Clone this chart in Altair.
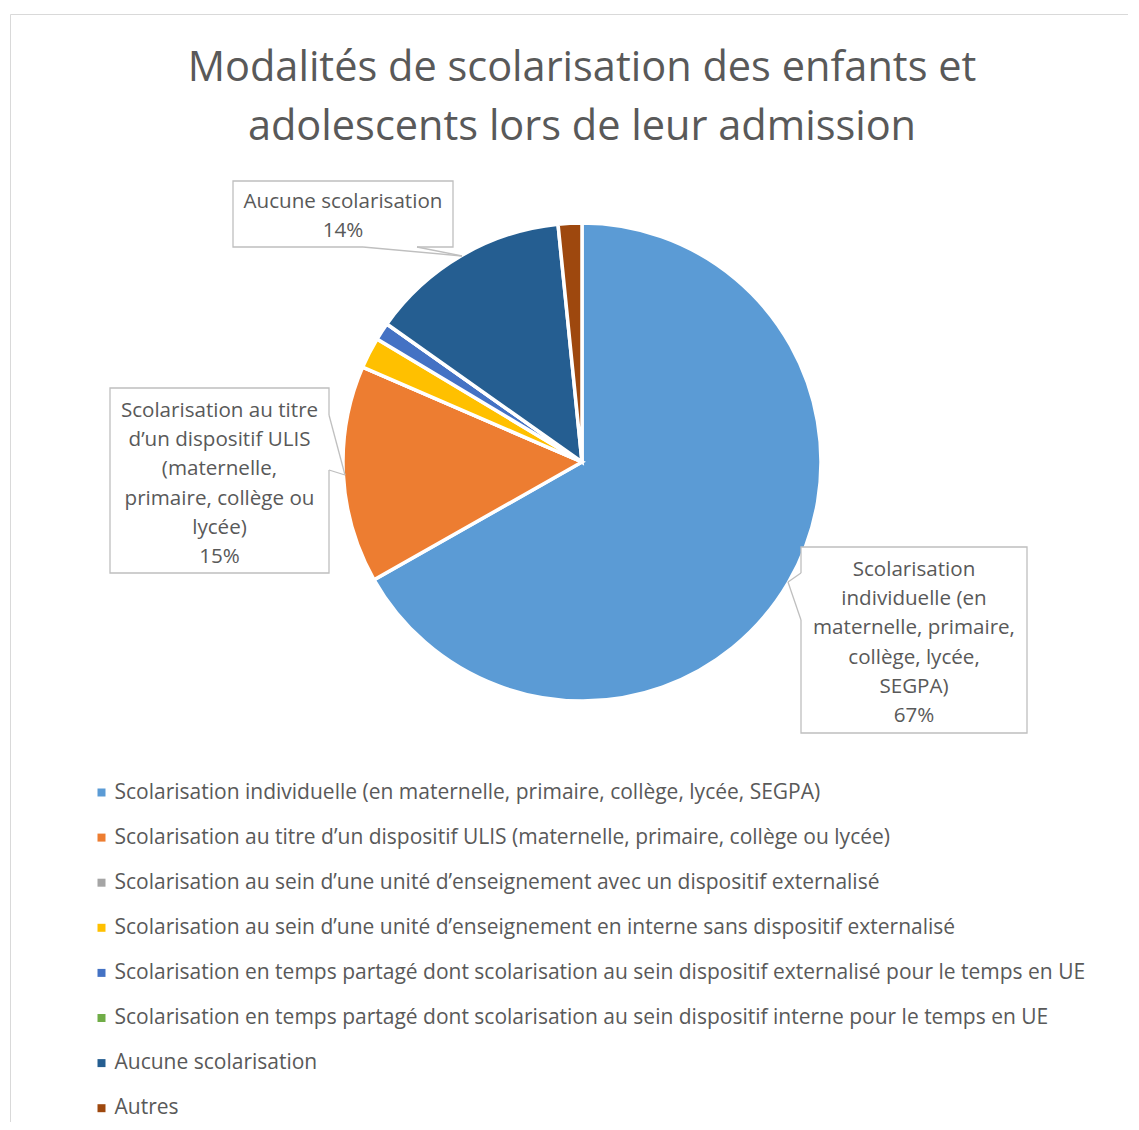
import altair as alt
import pandas as pd

# ---- data ----
categories = [
    "Scolarisation individuelle (en maternelle, primaire, collège, lycée, SEGPA)",
    "Scolarisation au titre d’un dispositif ULIS (maternelle, primaire, collège ou lycée)",
    "Scolarisation au sein d’une unité d’enseignement avec un dispositif externalisé",
    "Scolarisation au sein d’une unité d’enseignement en interne sans dispositif externalisé",
    "Scolarisation en temps partagé dont scolarisation au sein dispositif externalisé pour le temps en UE",
    "Scolarisation en temps partagé dont scolarisation au sein dispositif interne pour le temps en UE",
    "Aucune scolarisation",
    "Autres",
]
values = [66.8, 14.7, 0.0, 2.1, 1.2, 0.0, 13.6, 1.6]
colors = ["#5B9BD5", "#ED7D31", "#A5A5A5", "#FFC000", "#4472C4", "#70AD47", "#255E91", "#9E480E"]
title_lines = ["Modalités de scolarisation des enfants et", "adolescents lors de leur admission"]
label_individuelle = ["Scolarisation", "individuelle (en", "maternelle, primaire,", "collège, lycée,", "SEGPA)"]
label_ulis = ["Scolarisation au titre", "d’un dispositif ULIS", "(maternelle,", "primaire, collège ou", "lycée)"]
label_aucune = ["Aucune scolarisation"]

df = pd.DataFrame({"cat": categories, "value": values, "idx": list(range(len(categories)))})
one = pd.DataFrame({"k": [0]})

FONT = "Open Sans"
GREY = "#595959"
BOX = "#BFBFBF"
LABEL_SIZE = 20.6
LEGEND_SIZE = 21


def P(v):
    # page pixel -> view pixel (8px page margin)
    return v - 8


def pct(i):
    return f"{round(values[i])}%"


layers = []

# chart border
layers.append(
    alt.Chart(one).mark_rect(filled=False, stroke="#D9D9D9", strokeWidth=1).encode(
        x=alt.value(P(10.5)), x2=alt.value(P(1160)), y=alt.value(P(14.5)), y2=alt.value(P(1160))
    )
)

# title
for i, line in enumerate(title_lines):
    layers.append(
        alt.Chart(one).mark_text(text=line, font=FONT, fontSize=41.5, color=GREY, align="center", baseline="alphabetic").encode(
            x=alt.value(P(582)), y=alt.value(P(81 + 59 * i))
        )
    )

# pie
pie = alt.Chart(df).mark_arc(outerRadius=239, stroke="white", strokeWidth=3.5).encode(
    theta=alt.Theta("value:Q", stack=True),
    order=alt.Order("idx:Q"),
    color=alt.Color(
        "cat:N",
        scale=alt.Scale(domain=categories, range=colors),
        sort=categories,
        legend=alt.Legend(
            orient="none", legendX=P(91), legendY=P(782), direction="vertical", title=None,
            symbolType="square", symbolSize=64, symbolStrokeWidth=0,
            labelFont=FONT, labelFontSize=LEGEND_SIZE, labelColor=GREY, labelLimit=1100,
            rowPadding=23.1, labelOffset=2.5, padding=0,
        ),
    ),
    x=alt.value(P(582)),
    y=alt.value(P(462)),
)
layers.append(pie)


def callout(x1, y1, x2, y2, gap, tip):
    """box rectangle + pointer. gap = ((ax, ay), (bx, by)) on the box edge, tip = (tx, ty)."""
    out = [
        alt.Chart(one).mark_rect(fill="white", stroke=BOX, strokeWidth=1.3).encode(
            x=alt.value(P(x1)), x2=alt.value(P(x2)), y=alt.value(P(y1)), y2=alt.value(P(y2))
        ),
        alt.Chart(one).mark_rule(color="white", strokeWidth=2.5).encode(
            x=alt.value(P(gap[0][0])), y=alt.value(P(gap[0][1])), x2=alt.value(P(gap[1][0])), y2=alt.value(P(gap[1][1]))
        ),
    ]
    for g in gap:
        out.append(
            alt.Chart(one).mark_rule(color=BOX, strokeWidth=1.3).encode(
                x=alt.value(P(g[0])), y=alt.value(P(g[1])), x2=alt.value(P(tip[0])), y2=alt.value(P(tip[1]))
            )
        )
    return out


def label_text(lines, cx, first_baseline):
    return alt.Chart(one).mark_text(
        text=lines, font=FONT, fontSize=LABEL_SIZE, color=GREY, align="center", baseline="alphabetic", lineHeight=29.2
    ).encode(x=alt.value(P(cx)), y=alt.value(P(first_baseline)))


# callout: Aucune scolarisation
layers += callout(233, 181, 453, 247, ((363, 247), (417, 247)), (462, 256))
layers.append(label_text(label_aucune + [pct(6)], 343, 208))

# callout: ULIS
layers += callout(110, 388, 329, 573, ((329, 415), (329, 470)), (345, 475))
layers.append(label_text(label_ulis + [pct(1)], 219.5, 417))

# callout: individuelle
layers += callout(801, 547, 1027, 733, ((801, 573), (801, 620)), (788, 582))
layers.append(label_text(label_individuelle + [pct(0)], 914, 576))

chart = alt.layer(*layers).properties(
    width=1120, height=1114, padding=0, autosize=alt.AutoSizeParams(type="none")
).configure_view(stroke=None)

chart.save("out.html", embed_options={"renderer": "svg", "actions": False})
